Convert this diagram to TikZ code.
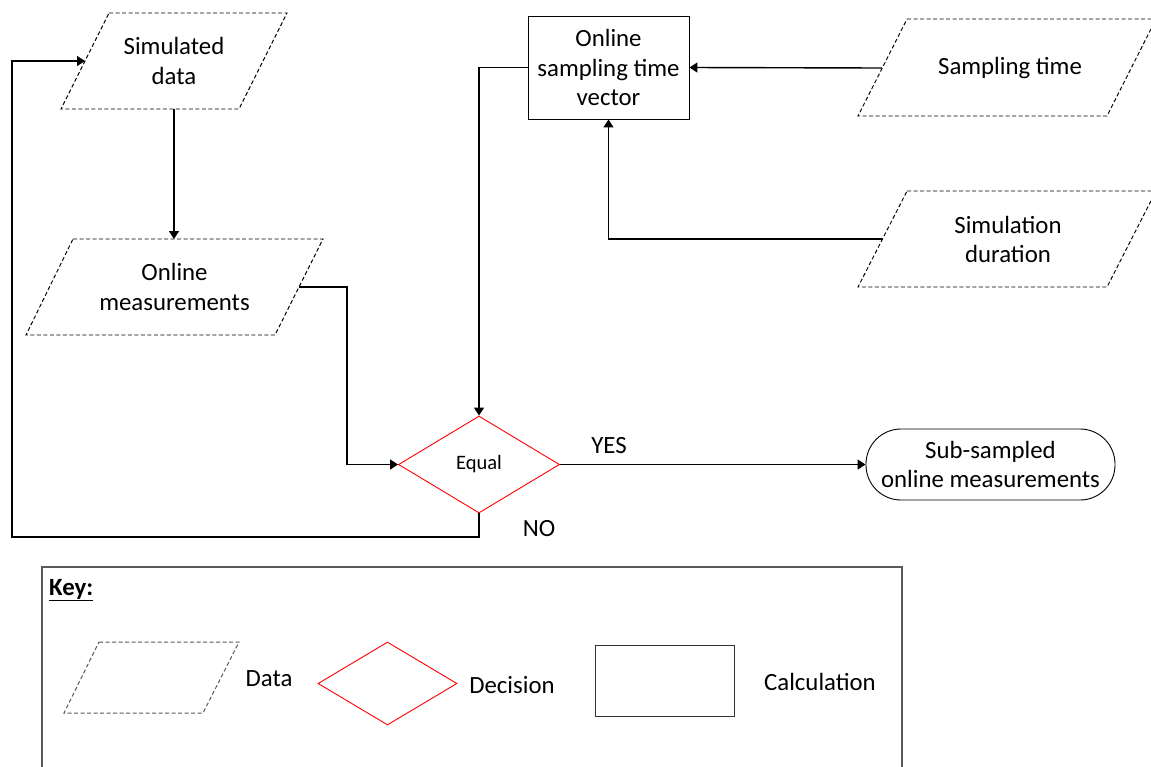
\documentclass[tikz,border=0pt]{standalone}
\usepackage{fontspec}
\setmainfont{Carlito}
\usetikzlibrary{arrows.meta,shapes.geometric,calc}
\newcommand\fsmain{\fontsize{24.8}{29.5}\selectfont}
\newcommand\fssmall{\fontsize{20.5}{24}\selectfont}
\begin{document}
\begin{tikzpicture}[x=1pt,y=-1pt,
  txt/.style={align=center, inner sep=0pt, font=\fsmain},
  databox/.style={draw=black, line width=0.95pt, dash pattern=on 4pt off 2.5pt},
  keydata/.style={draw=black!65, line width=1pt, dash pattern=on 4pt off 2.5pt},
  calcbox/.style={draw=black, line width=0.9pt, minimum width=161pt, minimum height=103pt, align=center, inner sep=0pt, font=\fsmain},
  decbox/.style={diamond, draw=red, line width=0.9pt, minimum width=161pt, minimum height=97pt, inner sep=0pt, font=\fssmall},
  termbox/.style={draw=black, line width=0.9pt, rounded corners=35pt, minimum width=249pt, minimum height=71pt, align=center, inner sep=0pt, font=\fsmain},
  conn/.style={line width=1.4pt, -{Triangle[length=8pt,width=10pt]}},
  lbl/.style={inner sep=0pt, font=\fsmain}
]
\useasboundingbox (0,0) rectangle (1151,766);

% ---------- data shapes ----------
\draw[databox] (109,13) -- (287,13) -- (239,109) -- (61,109) -- cycle;
\node[txt] (sim) at (174,61) {Simulated\\data};
\coordinate (simL) at (85,61);
\coordinate (simB) at (174,109);

\draw[databox] (73,239) -- (323,239) -- (275,335) -- (26,335) -- cycle;
\node[txt] (om) at (174.5,287) {Online\\measurements};
\coordinate (omT) at (174,239);
\coordinate (omR) at (299,287);

\draw[databox] (907,19) -- (1156,19) -- (1107,116) -- (858,116) -- cycle;
\node[txt] (st) at (1010,68) {Sampling time};
\coordinate (stL) at (882,68);

\draw[databox] (907,191) -- (1156,191) -- (1107,287) -- (858,287) -- cycle;
\node[txt] (sd) at (1008,239.5) {Simulation\\duration};
\coordinate (sdL) at (882,239);

% ---------- calculation, decision, terminal ----------
\node[calcbox] (calc) at (608.5,67.5) {Online\\sampling time\\vector};
\node[decbox] (eq) at (479,464.5) {Equal};
\node[termbox] (sub) at (990.5,464.5) {Sub-sampled\\online measurements};

% ---------- connectors ----------
\draw[conn] (simB) -- (omT);
\draw[conn] (omR) -- (347,287) |- (eq.west);
\draw[conn] (calc.west) -| (eq.north);
\draw[conn] (stL) -- (calc.east);
\draw[conn] (sdL) -| (calc.south);
\draw[conn] (eq.east) -- (sub.west);
\draw[conn] (eq.south) -- (479,537) -- (12,537) |- (simL);

\node[lbl] (yes) at (609,446) {YES};
\node[lbl] (no) at (539,529) {NO};

% ---------- key ----------
\draw[draw=black!65, line width=1.3pt] (42,790) -- (42,567) -- (902,567) -- (902,790);
\node[lbl, anchor=west, font=\fsmain\bfseries] (key) at (49,590) {\underline{Key:}};

\draw[keydata] (99,642) -- (239,642) -- (203,713) -- (64,713) -- cycle;
\node[lbl] (kdata) at (269,679) {Data};

\node[diamond, draw=red, line width=0.9pt, minimum width=139pt, minimum height=83pt, inner sep=0pt] (kdec) at (387.5,683.5) {};
\node[lbl] (kdectxt) at (512,685) {Decision};

\node[draw=black!80, line width=0.9pt, minimum width=139pt, minimum height=71pt, inner sep=0pt] (kcalc) at (664.5,680.5) {};
\node[lbl] (kcalctxt) at (820,682) {Calculation};
\end{tikzpicture}
\end{document}
